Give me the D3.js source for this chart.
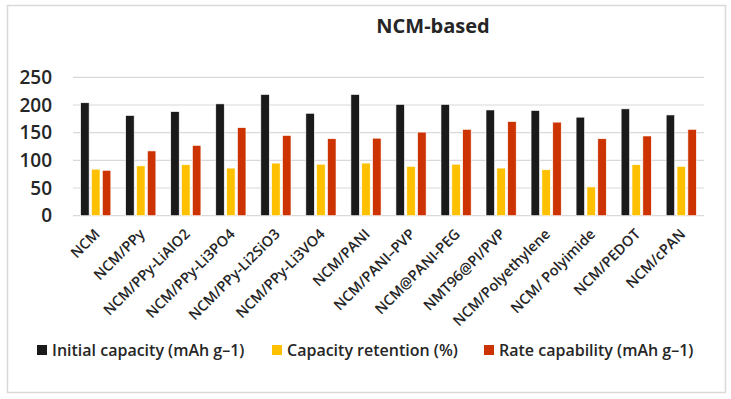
<!DOCTYPE html>
<html>
<head>
<meta charset="utf-8">
<script src="https://cdn.jsdelivr.net/npm/d3@7"></script>
<style>
  body { margin: 0; background: #fff; }
  text { font-family: "Open Sans", "Noto Sans", sans-serif; fill: #262626; }
</style>
</head>
<body>
<div id="chart"></div>
<script>
var categories = ['NCM', 'NCM/PPy', 'NCM/PPy-LiAlO2', 'NCM/PPy-Li3PO4', 'NCM/PPy-Li2SiO3',
  'NCM/PPy-Li3VO4', 'NCM/PANI', 'NCM/PANI\u2013PVP', 'NCM@PANI-PEG', 'NMT96@PI/PVP',
  'NCM/Polyethylene', 'NCM/ Polyimide', 'NCM/PEDOT', 'NCM/cPAN'];
var seriesNames = ['Initial capacity (mAh g\u20131)', 'Capacity retention (%)', 'Rate capability (mAh g\u20131)'];
var initialCapacity = [204, 181, 188, 202, 219, 185, 219, 201, 201, 191, 190, 178, 193, 182];
var capacityRetention = [84, 90, 92, 86, 95, 93, 95, 89, 93, 86, 83, 52, 92, 89];
var rateCapability = [82, 117, 127, 159, 145, 139, 140, 151, 156, 170, 169, 139, 144, 156];
var yTicks = [0, 50, 100, 150, 200, 250];
var colors = ['#1a1a1a', '#ffc000', '#cc3300'];

var width = 731, height = 399;
var svg = d3.select('#chart').append('svg')
    .attr('width', width)
    .attr('height', height);

// outer frame
svg.append('rect')
    .attr('x', 7.5).attr('y', 5.5)
    .attr('width', 718).attr('height', 387)
    .attr('fill', 'none').attr('stroke', '#d9d9d9').attr('stroke-width', 1.5);

svg.append('text')
    .attr('x', 433).attr('y', 33)
    .attr('text-anchor', 'middle')
    .attr('font-size', 20).attr('font-weight', 'bold')
    .text('NCM-based');

var plotLeft = 73, plotRight = 704, plotTop = 77.3, plotBottom = 215.7;

var x0 = d3.scaleBand().domain(categories).range([plotLeft, plotRight]).paddingInner(0.33).paddingOuter(0.17);
var x1 = d3.scaleBand().domain([0, 1, 2]).range([0, x0.bandwidth()]).paddingInner(0.22);
var y = d3.scaleLinear().domain([0, 250]).range([plotBottom, plotTop]);

var rows = categories.map(function(c, i) {
    return { name: c, values: [initialCapacity[i], capacityRetention[i], rateCapability[i]] };
});

// gridlines
svg.append('g')
    .selectAll('line')
    .data(yTicks)
    .enter()
    .append('line')
    .attr('x1', plotLeft).attr('x2', plotRight)
    .attr('y1', function(d) { return y(d); })
    .attr('y2', function(d) { return y(d); })
    .attr('stroke', '#d9d9d9').attr('stroke-width', 1.2);

// y labels
svg.append('g')
    .selectAll('text')
    .data(yTicks)
    .enter()
    .append('text')
    .attr('x', 52)
    .attr('y', function(d) { return y(d); })
    .attr('dy', '0.35em')
    .attr('text-anchor', 'end')
    .attr('font-size', 19).attr('font-weight', 600)
    .text(function(d) { return d; });

// bars
var groups = svg.append('g')
    .selectAll('g')
    .data(rows)
    .enter()
    .append('g')
    .attr('transform', function(d) { return 'translate(' + x0(d.name) + ',0)'; });

groups.selectAll('rect')
    .data(function(d) { return d.values; })
    .enter()
    .append('rect')
    .attr('x', function(d, i) { return x1(i); })
    .attr('y', function(d) { return y(d); })
    .attr('width', x1.bandwidth())
    .attr('height', function(d) { return plotBottom - y(d); })
    .attr('fill', function(d, i) { return colors[i]; })
    .attr('stroke', '#ffffff').attr('stroke-width', 0.6);

// category labels
svg.append('g')
    .selectAll('text')
    .data(categories)
    .enter()
    .append('text')
    .attr('transform', function(d) {
        return 'translate(' + (x0(d) + x0.bandwidth() / 2 + 5) + ',' + 235 + ') rotate(-45)';
    })
    .attr('text-anchor', 'end')
    .attr('font-size', 14.5).attr('font-weight', 600)
    .text(function(d) { return d; });

// legend
var legendX = [37, 272, 484];
var legend = svg.append('g')
    .selectAll('g')
    .data(seriesNames)
    .enter()
    .append('g')
    .attr('transform', function(d, i) { return 'translate(' + legendX[i] + ',350)'; });

legend.append('rect')
    .attr('x', 0).attr('y', -5)
    .attr('width', 10).attr('height', 10)
    .attr('fill', function(d, i) { return colors[i]; });

legend.append('text')
    .attr('x', 15).attr('y', 0)
    .attr('dy', '0.35em')
    .attr('font-size', 16).attr('font-weight', 600)
    .text(function(d) { return d; });
</script>
</body>
</html>
